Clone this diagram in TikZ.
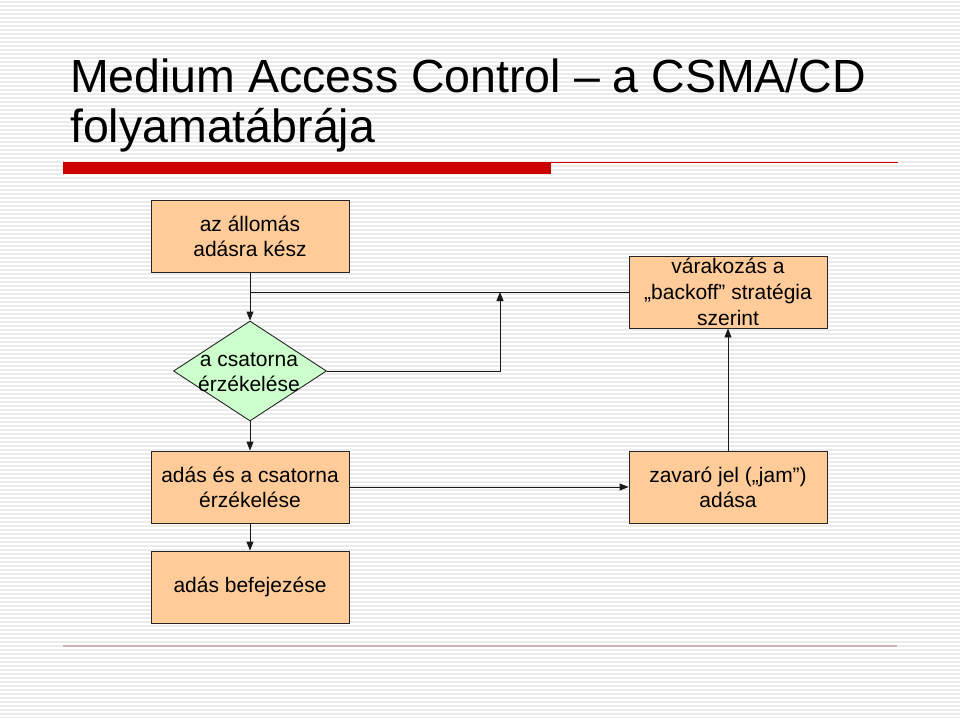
\documentclass[tikz,border=0pt]{standalone}
\usepackage{fontspec}
\setmainfont{Liberation Sans}
\usetikzlibrary{arrows.meta,shapes.geometric}
\definecolor{peach}{HTML}{FFCC99}
\definecolor{mint}{HTML}{CCFFCC}
\definecolor{barred}{HTML}{CC0000}
\definecolor{stripe}{HTML}{EBEBEB}
\definecolor{footline}{HTML}{C8B4B4}
\begin{document}
\begin{tikzpicture}[x=1pt,y=-1pt,
  box/.style={draw=black!85,line width=0.9pt,fill=peach,minimum width=198pt,minimum height=72pt,inner sep=0pt,align=center,font=\fontsize{21}{25}\selectfont},
  dia/.style={draw=black!85,line width=0.9pt,fill=mint,shape=diamond,minimum width=153pt,minimum height=100pt,inner sep=0pt},
  conn/.style={line width=0.9pt,black!90},
  arr/.style={conn,-{Triangle[length=9pt,width=7pt]}},
  titletext/.style={anchor=base west,inner sep=0pt,font=\fontsize{46.5}{50}\selectfont}
]
\useasboundingbox (0,0) rectangle (960,717);
\fill[white] (0,0) rectangle (960,717);
\foreach \k in {0,...,179} {
  \fill[stripe] (0,{4*\k+1}) rectangle (960,{4*\k+2.6});
}
% title
\node[titletext] (t1) at (70,92) {Medium Access Control – a CSMA/CD};
\node[titletext] (t2) at (70,142) {folyamatábrája};
\fill[barred] (63,162) rectangle (551,174);
\draw[barred,line width=1pt] (551,162.5) -- (898,162.5);
\draw[footline,line width=1.5pt] (63,646) -- (897,646);
% nodes
\node[box] (ready) at (250,236) {az állomás\\adásra kész};
\node[dia] (sense) at (250,371) {};
\node[align=center,inner sep=0pt,font=\fontsize{21}{25}\selectfont] (senset) at (249,372) {a csatorna\\érzékelése};
\node[box,font=\fontsize{21}{26}\selectfont] (backoff) at (728,292) {várakozás a\\„backoff” stratégia\\szerint};
\node[box] (tx) at (250,487) {adás és a csatorna\\érzékelése};
\node[box] (jam) at (728,487) {zavaró jel („jam”)\\adása};
\node[box] (done) at (250,587) {adás befejezése};
\coordinate (j1) at (250,292);
\coordinate (c1) at (500,371);
\coordinate (c2) at (500,292);
% connectors
\draw[arr] (ready.south) -- (sense.north);
\draw[conn] (backoff.west) -- (j1);
\draw[arr] (sense.east) -- (c1) -- (c2);
\draw[arr] (sense.south) -- (tx.north);
\draw[arr] (tx.east) -- (jam.west);
\draw[arr] (jam.north) -- (backoff.south);
\draw[arr] (tx.south) -- (done.north);
\end{tikzpicture}
\end{document}
